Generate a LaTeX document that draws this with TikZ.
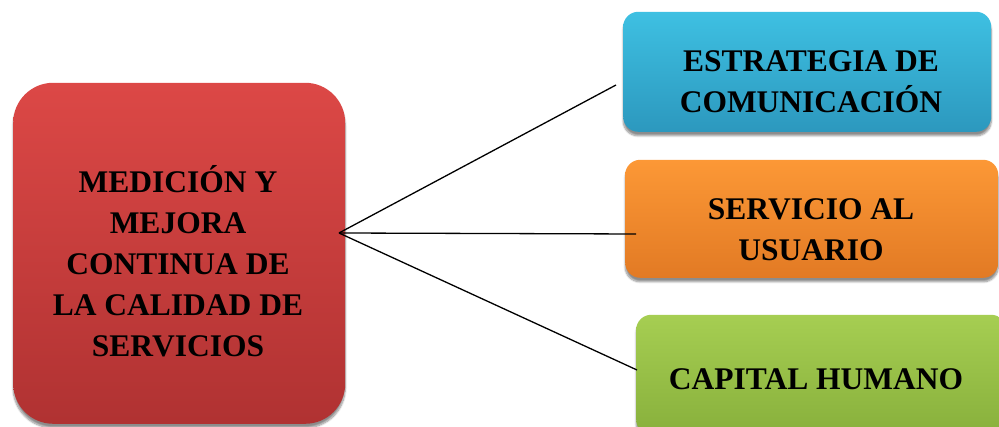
\documentclass[tikz,border=0pt]{standalone}
\usepackage{fontspec}
\setmainfont{Liberation Serif}
\usetikzlibrary{shadows.blur}

\definecolor{redtop}{RGB}{220,72,70}
\definecolor{redbot}{RGB}{176,50,50}
\definecolor{bluetop}{RGB}{62,192,226}
\definecolor{bluebot}{RGB}{44,152,190}
\definecolor{orangetop}{RGB}{252,152,54}
\definecolor{orangebot}{RGB}{226,122,36}
\definecolor{greentop}{RGB}{166,206,82}
\definecolor{greenbot}{RGB}{136,176,60}

\tikzset{
  box/.style={rectangle, draw=none, inner sep=0pt, anchor=south west,
    blur shadow={shadow xshift=0pt, shadow yshift=-4pt, shadow blur steps=8, shadow opacity=45}},
  label/.style={font=\fontsize{31.5}{41}\selectfont\bfseries, align=center, text=black, inner sep=0pt},
  link/.style={draw=black, line width=1.3pt}
}

\begin{document}
\begin{tikzpicture}[x=1pt,y=1pt]
  \useasboundingbox (0,0) rectangle (999,427);
  \clip (0,0) rectangle (999,427);

  % central box
  \node[box, rounded corners=40pt, minimum width=332pt, minimum height=341pt,
        top color=redtop, bottom color=redbot] (center) at (13,3) {};
  % right-hand boxes
  \node[box, rounded corners=15pt, minimum width=368pt, minimum height=120pt,
        top color=bluetop, bottom color=bluebot] (comm) at (623,295) {};
  \node[box, rounded corners=15pt, minimum width=373pt, minimum height=118pt,
        top color=orangetop, bottom color=orangebot] (serv) at (625,149) {};
  \node[box, rounded corners=15pt, minimum width=370pt, minimum height=120pt,
        top color=greentop, bottom color=greenbot] (human) at (636,-8) {};

  % connectors
  \coordinate (hub) at (339,194);
  \coordinate (commend) at (616,342);
  \coordinate (servend) at (636,193);
  \coordinate (humanend) at (637,57);
  \draw[link] (hub) -- (commend);
  \draw[link] (hub) -- (servend);
  \draw[link] (hub) -- (humanend);

  % texts
  \node[label] (centertext) at (178,166) {MEDICIÓN Y\\MEJORA\\CONTINUA DE\\LA CALIDAD DE\\SERVICIOS};
  \node[label] (commtext) at (811,345) {ESTRATEGIA DE\\COMUNICACIÓN};
  \node[label] (servtext) at (811,197) {SERVICIO AL\\USUARIO};
  \node[label] (humantext) at (816,48) {CAPITAL HUMANO};
\end{tikzpicture}
\end{document}
